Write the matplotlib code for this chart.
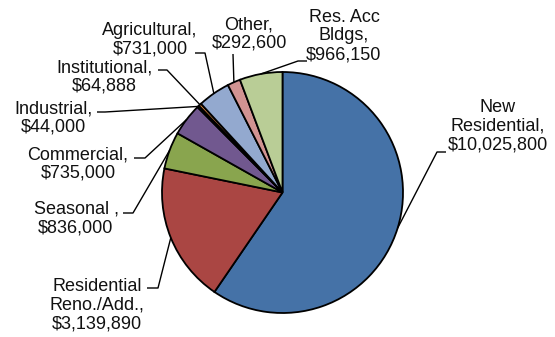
import matplotlib
matplotlib.use("Agg")
import matplotlib.pyplot as plt
import numpy as np

plt.rcParams["font.family"] = ["Liberation Sans", "DejaVu Sans"]

# slices, clockwise from 12 o'clock
categories = ["New\nResidential,", "Residential\nReno./Add.,", "Seasonal ,", "Commercial,",
              "Industrial,", "Institutional,", "Agricultural,", "Other,", "Res. Acc\nBldgs,"]
values = [10025800, 3139890, 836000, 735000, 44000, 64888, 731000, 292600, 966150]
colors = ['#4572A7', '#AA4643', '#89A54E', '#71588F', '#4198AF',
          '#DB843D', '#93A9CF', '#D19392', '#B9CD96']

W, H = 555, 337
center = (282.5, 192.5)   # pixel coords (y down)
radius = 120.5

# label layout in pixels: text centre, leader stub (text side, pie side)
label_pos = [(498, 126), (97, 305), (76, 218.5), (78, 164), (53, 118),
             (104, 77), (150, 40), (249, 34), (344, 36)]
stubs = [((446, 152), (437, 152)), ((147, 288), (158, 288)), ((123, 213), (133, 213)),
         ((134, 158), (145, 158)), ((97, 112), (105, 112)), ((158, 70), (167, 70)),
         ((195, 53), (205, 53)), ((233, 54), (233, 54)), ((307, 61), (298, 61))]


def px(x, y):
    return x, H - y


fig = plt.figure(figsize=(W / 100, H / 100), dpi=100)
ax = fig.add_axes([0, 0, 1, 1])

wedges, _ = ax.pie(values, colors=colors, startangle=90, counterclock=False,
                   radius=radius, center=px(*center),
                   wedgeprops={'edgecolor': 'black', 'linewidth': 1.3})
ax.set_xlim(0, W)
ax.set_ylim(0, H)
ax.set_aspect('auto')
ax.axis('off')

for i, w in enumerate(wedges):
    mid = np.deg2rad((w.theta1 + w.theta2) / 2)
    ex = w.center[0] + radius * np.cos(mid)
    ey = w.center[1] + radius * np.sin(mid)
    (sx0, sy0), (sx1, sy1) = stubs[i]
    xs = [px(sx0, sy0)[0], px(sx1, sy1)[0], ex]
    ys = [px(sx0, sy0)[1], px(sx1, sy1)[1], ey]
    ax.plot(xs, ys, color='black', lw=1.0, solid_capstyle='butt')
    text = categories[i] + "\n" + f"${values[i]:,}"
    tx, ty = px(*label_pos[i])
    ax.text(tx, ty, text, ha='center', va='center', multialignment='center',
            fontsize=13, color='#111111', linespacing=1.12)

fig.savefig("out.png", dpi=100)
